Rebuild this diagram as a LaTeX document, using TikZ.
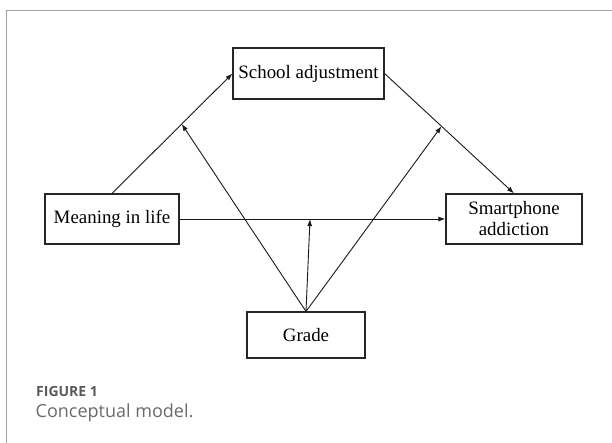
\documentclass[tikz,border=0pt]{standalone}
\usepackage{fontspec}
\setmainfont{Liberation Serif}
\newfontfamily\capfont{Open Sans}
\usetikzlibrary{arrows.meta,calc}
\definecolor{framegray}{HTML}{A0A0A0}
\definecolor{capgray}{HTML}{5A5A5A}
\definecolor{capgraylight}{HTML}{6A6A6A}
\tikzset{
  box/.style={draw=black!85, line width=1.1bp, inner sep=0pt, align=center,
    font=\fontsize{18.9bp}{21bp}\selectfont},
  conn/.style={draw=black!90, line width=0.9bp, -{Latex[length=7bp,width=5bp]}}
}
\begin{document}
\begin{tikzpicture}[x=1bp,y=-1bp]
\useasboundingbox (0,0) rectangle (612,443);
\draw[framegray, line width=0.9bp] (6.7,443) -- (6.7,10.3) -- (612,10.3);
\node[box, minimum width=151bp, minimum height=51bp] (school) at (308.5,73.5) {School adjustment};
\node[box, minimum width=134bp, minimum height=50bp] (meaning) at (112,219) {Meaning in life};
\node[box, minimum width=136bp, minimum height=50bp] (smart) at (514,219) {Smartphone\\addiction};
\node[box, minimum width=118bp, minimum height=46bp] (grade) at (306,335) {Grade};
\draw[conn] (meaning.north) -- (school.west);
\draw[conn] (school.east) -- (smart.north);
\draw[conn] (meaning.east) -- (smart.west);
\coordinate (m1) at ($(meaning.north)!0.579!(school.west)$);
\coordinate (m2) at ($(school.east)!0.44!(smart.north)$);
\coordinate (m3) at (310,219);
\draw[conn] (grade.north) -- (m1);
\draw[conn] (grade.north) -- (m3);
\draw[conn] (grade.north) -- (m2);
\node[anchor=base west, inner sep=0pt, text=capgray, font=\capfont\bfseries\fontsize{14bp}{16bp}\selectfont] (figlabel) at (36,396) {FIGURE 1};
\node[anchor=base west, inner sep=0pt, text=capgraylight, font=\capfont\fontsize{18bp}{20bp}\selectfont] (figcap) at (35.5,417) {Conceptual model.};
\end{tikzpicture}
\end{document}
